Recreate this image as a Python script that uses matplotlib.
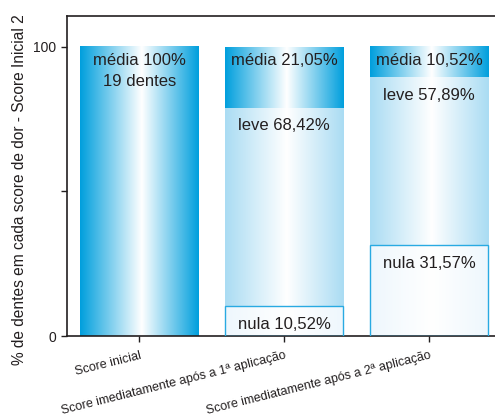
import numpy as np
import matplotlib.pyplot as plt
from matplotlib.colors import LinearSegmentedColormap

plt.rcParams['font.family'] = ['Liberation Sans', 'DejaVu Sans']

categories = ["Score inicial",
              "Score imediatamente após a 1ª aplicação",
              "Score imediatamente após a 2ª aplicação"]
nula = [0.0, 10.52, 31.57]
leve = [0.0, 68.42, 57.89]
media = [100.0, 21.05, 10.52]
media_text = ["média 100%\n19 dentes", "média 21,05%", "média 10,52%"]
leve_text = ["", "leve 68,42%", "leve 57,89%"]
nula_text = ["", "nula 10,52%", "nula 31,57%"]

text_color = "#231f20"
edge_blue = "#29aae2"


def edge_cmap(edge, mid="#ffffff", mid_pos=0.52):
    return LinearSegmentedColormap.from_list(
        "edge", [(0.0, edge), (mid_pos, mid), (1.0, edge)])


cmap_media = edge_cmap("#009fdd")
cmap_leve = edge_cmap("#aadcf3")
cmap_nula = edge_cmap("#eef7fd", "#ffffff")
grad = np.linspace(0, 1, 256).reshape(1, -1)

fig = plt.figure(figsize=(4.95, 4.16), dpi=100)
ax = fig.add_axes([67 / 495, 1 - 336 / 416, 428 / 495, 320 / 416])

width = 0.815
for i in range(len(categories)):
    x0, x1 = i - width / 2, i + width / 2
    b0 = 0.0
    # nula (bottom), leve (middle), média (top)
    for val, cmap, label, gap in ((nula[i], cmap_nula, nula_text[i], 6.6),
                                  (leve[i], cmap_leve, leve_text[i], 6.2),
                                  (media[i], cmap_media, media_text[i], 4.6)):
        if val <= 0:
            continue
        b1 = b0 + val
        ax.imshow(grad, cmap=cmap, extent=[x0, x1, b0, b1],
                  aspect='auto', interpolation='bilinear', zorder=2)
        if cmap is cmap_nula:
            ax.add_patch(plt.Rectangle((x0, b0), width, val, fill=False,
                                       edgecolor=edge_blue, lw=1.0, zorder=3))
        for k, line in enumerate(label.split("\n")):
            ax.text(i, b1 - gap - 7.3 * k, line, ha='center', va='center',
                    fontsize=12, color=text_color, zorder=4)
        b0 = b1

ax.set_xlim(-0.5, 2.455)
ax.set_ylim(0, 110.7)
ax.set_yticks([0, 50, 100])
ax.set_yticklabels(["0", "", "100"], fontsize=10, color=text_color)
ax.set_xticks(range(len(categories)))
ax.set_xticklabels(categories, rotation=14, ha='right',
                   rotation_mode='anchor', fontsize=9, color=text_color)
ax.tick_params(axis='both', direction='out', length=4, width=1,
               color="#231f20")
ax.tick_params(axis='x', pad=6)
for side in ('left', 'bottom', 'top'):
    ax.spines[side].set_linewidth(1.2)
    ax.spines[side].set_color("#231f20")
ax.spines['right'].set_visible(False)
ax.set_ylabel("% de dentes em cada score de dor - Score Inicial 2",
              fontsize=11.2, color=text_color, va='center')
ax.yaxis.set_label_coords(-47 / 428, (336 - 190) / 320)

fig.savefig("out.png", dpi=100)
